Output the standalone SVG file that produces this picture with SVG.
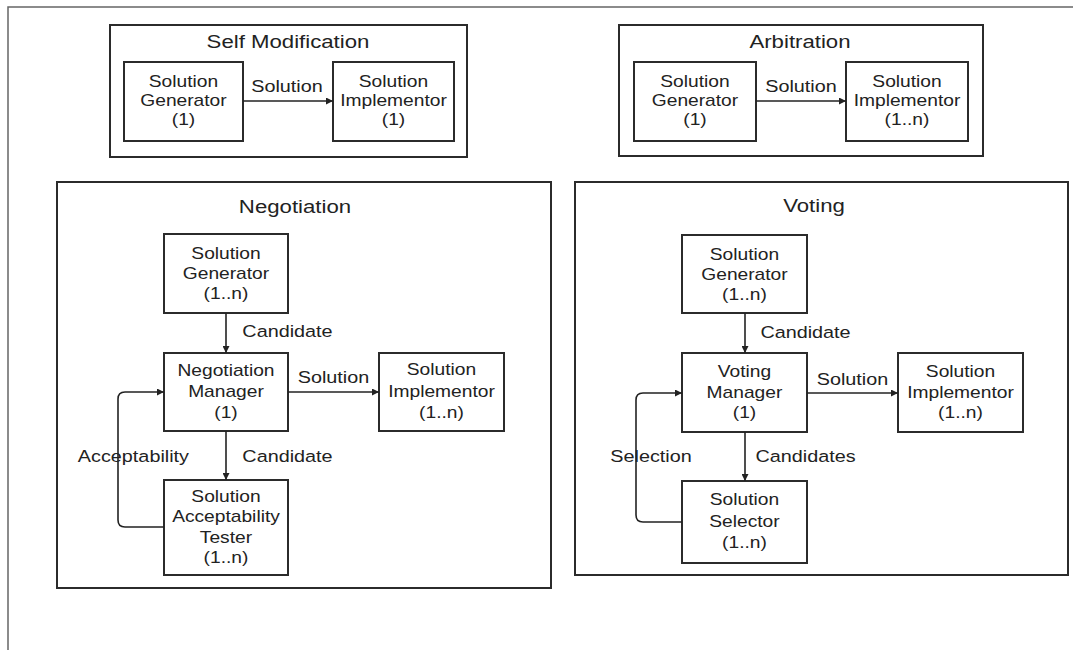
<svg xmlns="http://www.w3.org/2000/svg" width="1073" height="650" viewBox="0 0 1073 650">
  <style>
    text { font-family: "Liberation Sans", Arial, sans-serif; fill: #222; text-anchor: middle;
           transform-box: fill-box; transform-origin: center; transform: scaleX(1.2); }
    .title { font-size: 18.5px; }
    .node { font-size: 16px; }
    .lbl { font-size: 16.5px; }
    .frame { fill: #fff; stroke: #2b2b2b; stroke-width: 2; }
    .box { fill: #fff; stroke: #2b2b2b; stroke-width: 2; }
    .edge { fill: none; stroke: #222; stroke-width: 1.6; marker-end: url(#arrow); }
    .page { fill: none; stroke: #666; stroke-width: 1.5; }
  </style>
  <defs>
    <marker id="arrow" viewBox="0 0 10 10" refX="10" refY="5" markerWidth="7" markerHeight="7" markerUnits="userSpaceOnUse" orient="auto">
      <path d="M0,0 L10,5 L0,10 z" fill="#222"/>
    </marker>
  </defs>

  <rect width="1073" height="650" fill="#fff"/>
  <!-- page edge -->
  <path class="page" d="M8,650 L8,7 L1073,7"/>

  <!-- group frames -->
  <g id="self-modification">
    <rect class="frame" x="110" y="25" width="357" height="132"/>
    <text class="title" x="288" y="48">Self Modification</text>
  </g>
  <g id="arbitration">
    <rect class="frame" x="619" y="25" width="364" height="131"/>
    <text class="title" x="800" y="48">Arbitration</text>
  </g>
  <g id="negotiation">
    <rect class="frame" x="57" y="182" width="494" height="406"/>
    <text class="title" x="295" y="213">Negotiation</text>
  </g>
  <g id="voting">
    <rect class="frame" x="575" y="182" width="493" height="393"/>
    <text class="title" x="814" y="212">Voting</text>
  </g>

  <!-- Self Modification nodes -->
  <g id="sm-generator">
    <rect class="box" x="124" y="62" width="119" height="79"/>
    <text class="node" x="183.5" y="87">Solution</text>
    <text class="node" x="183.5" y="106">Generator</text>
    <text class="node" x="183.5" y="125">(1)</text>
  </g>
  <g id="sm-implementor">
    <rect class="box" x="333" y="62" width="121" height="79"/>
    <text class="node" x="393.5" y="87">Solution</text>
    <text class="node" x="393.5" y="106">Implementor</text>
    <text class="node" x="393.5" y="125">(1)</text>
  </g>

  <!-- Arbitration nodes -->
  <g id="ar-generator">
    <rect class="box" x="634" y="62" width="122" height="79"/>
    <text class="node" x="695" y="87">Solution</text>
    <text class="node" x="695" y="106">Generator</text>
    <text class="node" x="695" y="125">(1)</text>
  </g>
  <g id="ar-implementor">
    <rect class="box" x="846" y="62" width="122" height="79"/>
    <text class="node" x="907" y="87">Solution</text>
    <text class="node" x="907" y="106">Implementor</text>
    <text class="node" x="907" y="125">(1..n)</text>
  </g>

  <!-- Negotiation nodes -->
  <g id="ng-generator">
    <rect class="box" x="164" y="234" width="124" height="79"/>
    <text class="node" x="226" y="259">Solution</text>
    <text class="node" x="226" y="279">Generator</text>
    <text class="node" x="226" y="299">(1..n)</text>
  </g>
  <g id="ng-manager">
    <rect class="box" x="164" y="353" width="124" height="78"/>
    <text class="node" x="226" y="376">Negotiation</text>
    <text class="node" x="226" y="397">Manager</text>
    <text class="node" x="226" y="418">(1)</text>
  </g>
  <g id="ng-implementor">
    <rect class="box" x="379" y="353" width="125" height="78"/>
    <text class="node" x="441.5" y="375">Solution</text>
    <text class="node" x="441.5" y="397">Implementor</text>
    <text class="node" x="441.5" y="418">(1..n)</text>
  </g>
  <g id="ng-tester">
    <rect class="box" x="164" y="480" width="124" height="95"/>
    <text class="node" x="226" y="502">Solution</text>
    <text class="node" x="226" y="522">Acceptability</text>
    <text class="node" x="226" y="543">Tester</text>
    <text class="node" x="226" y="563">(1..n)</text>
  </g>

  <!-- Voting nodes -->
  <g id="vt-generator">
    <rect class="box" x="682" y="235" width="125" height="78"/>
    <text class="node" x="744.5" y="260">Solution</text>
    <text class="node" x="744.5" y="280">Generator</text>
    <text class="node" x="744.5" y="300">(1..n)</text>
  </g>
  <g id="vt-manager">
    <rect class="box" x="682" y="353" width="125" height="79"/>
    <text class="node" x="744.5" y="377">Voting</text>
    <text class="node" x="744.5" y="398">Manager</text>
    <text class="node" x="744.5" y="418">(1)</text>
  </g>
  <g id="vt-implementor">
    <rect class="box" x="898" y="353" width="125" height="79"/>
    <text class="node" x="960.5" y="377">Solution</text>
    <text class="node" x="960.5" y="398">Implementor</text>
    <text class="node" x="960.5" y="418">(1..n)</text>
  </g>
  <g id="vt-selector">
    <rect class="box" x="682" y="481" width="125" height="82"/>
    <text class="node" x="744.5" y="505">Solution</text>
    <text class="node" x="744.5" y="527">Selector</text>
    <text class="node" x="744.5" y="548">(1..n)</text>
  </g>

  <!-- connectors -->
  <g id="connectors">
    <path class="edge" d="M243,101 L333,101"/>
    <text class="lbl" x="287" y="92">Solution</text>

    <path class="edge" d="M756,101 L846,101"/>
    <text class="lbl" x="801" y="92">Solution</text>

    <path class="edge" d="M226,313 L226,353"/>
    <text class="lbl" x="287.5" y="337">Candidate</text>
    <path class="edge" d="M288,392 L379,392"/>
    <text class="lbl" x="333.5" y="383">Solution</text>
    <path class="edge" d="M226,431 L226,480"/>
    <text class="lbl" x="287.5" y="462">Candidate</text>
    <path class="edge" d="M164,527 L125,527 Q118,527 118,520 L118,399 Q118,392 125,392 L164,392"/>
    <text class="lbl" x="133.5" y="462">Acceptability</text>

    <path class="edge" d="M745,313 L745,353"/>
    <text class="lbl" x="805.5" y="338">Candidate</text>
    <path class="edge" d="M807,393 L898,393"/>
    <text class="lbl" x="852.5" y="385">Solution</text>
    <path class="edge" d="M745,432 L745,481"/>
    <text class="lbl" x="805.5" y="462">Candidates</text>
    <path class="edge" d="M682,522 L643,522 Q636,522 636,515 L636,400 Q636,393 643,393 L682,393"/>
    <text class="lbl" x="651" y="462">Selection</text>
  </g>
</svg>
